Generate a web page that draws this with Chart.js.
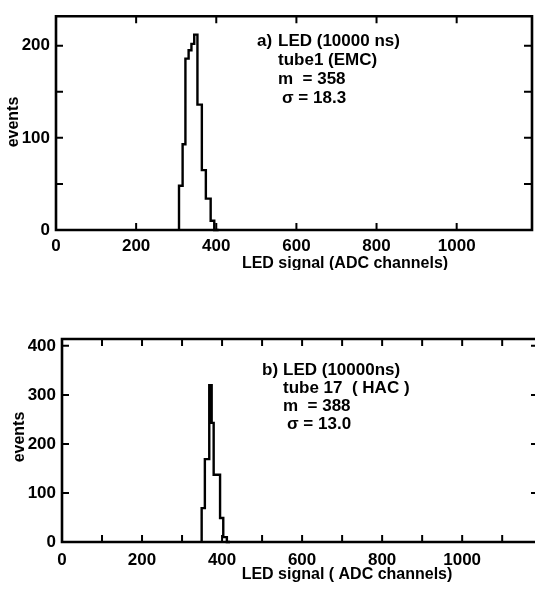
<!DOCTYPE html>
<html>
<head>
<meta charset="utf-8">
<script src="https://cdn.jsdelivr.net/npm/chart.js@4/dist/chart.umd.min.js"></script>
<style>
  html, body { margin: 0; padding: 0; background: #fff; }
  #wrap { position: relative; width: 535px; height: 589px; }
  canvas { position: absolute; left: 0; }
  #cTop { top: 0; }
  #cBot { top: 270px; }
</style>
</head>
<body>
<div id="wrap">
  <canvas id="cTop" width="535" height="270"></canvas>
  <canvas id="cBot" width="535" height="319"></canvas>
</div>
<script>
// ============================================================
// DATA
// ============================================================

// a) tube 1 (EMC): bin edges in ADC channels, counts per bin
const topEdges  = [307, 316, 323, 331, 338, 345, 353, 364, 374, 386, 395, 406];
const topCounts = [14, 48, 93, 186, 195, 202, 212, 136, 65, 34, 10];

// b) tube 17 (HAC)
const botEdges  = [349, 357, 368, 374, 379, 395, 403, 412, 420];
const botCounts = [18, 69, 169, 320, 243, 137, 49, 10];

// tick positions and labelled values
const topXTicks = [0, 200, 400, 600, 800, 1000];
const botXTicks = [0, 100, 200, 300, 400, 500, 600, 700, 800, 900, 1000, 1100];
const xTickLabels = [0, 200, 400, 600, 800, 1000];
const topYTicks = [0, 50, 100, 150, 200];
const topYLabels = [0, 100, 200];
const botYTicks = [0, 100, 200, 300, 400];
const botYLabels = [0, 100, 200, 300, 400];

const topNotes = ["a)", "LED (10000 ns)", "tube1 (EMC)", "m  = 358", "σ = 18.3"];
const botNotes = ["b)", "LED (10000ns)", "tube 17  ( HAC )", "m  = 388", "σ = 13.0"];

const xTitleTop = "LED signal (ADC channels)";
const xTitleBot = "LED signal ( ADC channels)";
const yTitle = "events";

const FONT = "'Liberation Sans', Arial, sans-serif";


// ============================================================
// HELPERS
// ============================================================

// step outline: start on the baseline, hold each count until the next edge
function histPoints(edges, counts) {
  const pts = [{ x: edges[0], y: 0 }];
  counts.forEach((c, i) => pts.push({ x: edges[i], y: c }));
  pts.push({ x: edges[edges.length - 1], y: 0 });
  return pts;
}

// frame, inward ticks and free text
const framePlugin = {
  id: "frame",
  afterDraw(chart, args, o) {
    const { ctx, chartArea: a, scales: { x, y } } = chart;
    ctx.save();
    ctx.strokeStyle = "#000";
    ctx.lineCap = "square";

    // box
    ctx.lineWidth = 2.6;
    ctx.beginPath();
    ctx.moveTo(a.left, a.top); ctx.lineTo(a.left, a.bottom); ctx.lineTo(a.right, a.bottom);
    ctx.moveTo(a.left, a.top); ctx.lineTo(a.right, a.top);
    if (o.rightBorder) { ctx.moveTo(a.right, a.top); ctx.lineTo(a.right, a.bottom); }
    ctx.stroke();

    // inward ticks
    const L = 6;
    ctx.lineWidth = 2;
    ctx.beginPath();
    x.ticks.forEach(t => {
      const px = x.getPixelForValue(t.value);
      if (px <= a.left + 1) return;
      ctx.moveTo(px, a.bottom); ctx.lineTo(px, a.bottom - L);
      ctx.moveTo(px, a.top); ctx.lineTo(px, a.top + L);
    });
    y.ticks.forEach(t => {
      const py = y.getPixelForValue(t.value);
      if (py >= a.bottom - 1) return;
      ctx.moveTo(a.left, py); ctx.lineTo(a.left + L, py);
      ctx.moveTo(a.right - 1, py); ctx.lineTo(a.right - 1 - (o.rightBorder ? L : 2), py);
    });
    ctx.stroke();

    // text
    ctx.fillStyle = "#000";
    ctx.textBaseline = "middle";
    (o.texts || []).forEach(t => {
      ctx.font = t.font;
      ctx.textAlign = t.align || "left";
      if (t.rot) {
        ctx.save();
        ctx.translate(t.x, t.y);
        ctx.rotate(-Math.PI / 2);
        ctx.textAlign = "center";
        ctx.fillText(t.s, 0, 0);
        ctx.restore();
      } else {
        ctx.fillText(t.s, t.x, t.y);
      }
    });
    ctx.restore();
  }
};


// ============================================================
// CHART BUILDER
// ============================================================

function makeHist(id, edges, counts, cfg) {
  const tickFont = { family: FONT, size: 17, weight: "bold" };

  return new Chart(document.getElementById(id), {
    type: "line",
    data: {
      datasets: [{
        data: histPoints(edges, counts),
        stepped: "after",
        borderColor: "#000",
        borderWidth: 2.4,
        pointRadius: 0,
        fill: false,
        clip: false
      }]
    },
    options: {
      responsive: false,
      animation: false,
      layout: { padding: cfg.padding },
      plugins: {
        legend: { display: false },
        tooltip: { enabled: false },
        frame: { rightBorder: cfg.rightBorder, texts: cfg.texts }
      },
      scales: {
        x: {
          type: "linear",
          min: 0,
          max: cfg.xMax,
          grid: { display: false, drawTicks: false },
          border: { display: false },
          // explicit tick list (auto ticks would snap 1188/200 to 6 even spaces)
          afterBuildTicks: s => { s.ticks = cfg.xTicks.map(v => ({ value: v })); },
          afterFit: s => { s.height = cfg.xHeight; },
          ticks: {
            autoSkip: false,
            maxRotation: 0,
            padding: cfg.xPad,
            color: "#000",
            font: tickFont,
            callback: v => xTickLabels.includes(v) ? String(v) : ""
          }
        },
        y: {
          min: 0,
          max: cfg.yMax,
          grid: { display: false, drawTicks: false },
          border: { display: false },
          afterBuildTicks: s => { s.ticks = cfg.yTicks.map(v => ({ value: v })); },
          afterFit: s => { s.width = cfg.yWidth; },
          ticks: {
            autoSkip: false,
            padding: 6,
            color: "#000",
            font: tickFont,
            callback: v => cfg.yLabels.includes(v) ? String(v) : ""
          }
        }
      }
    },
    plugins: [framePlugin]
  });
}

const noteFont = "bold 17px " + FONT;
const titleFont = "bold 16px " + FONT;

function noteTexts(notes, x0, y0, dy) {
  return [
    { s: notes[0], x: x0, y: y0, font: noteFont },
    { s: notes[1], x: x0 + 21, y: y0, font: noteFont },
    { s: notes[2], x: x0 + 21, y: y0 + dy, font: noteFont },
    { s: notes[3], x: x0 + 21, y: y0 + dy * 2, font: noteFont },
    { s: notes[4], x: x0 + 25, y: y0 + dy * 3, font: noteFont }
  ];
}

// ---------------- a) top panel
makeHist("cTop", topEdges, topCounts, {
  padding: { top: 6, right: 3, left: 0, bottom: 0 },
  xMax: 1188, xTicks: topXTicks, xHeight: 40, xPad: 6,
  yMax: 232, yTicks: topYTicks, yWidth: 56, yLabels: topYLabels,
  rightBorder: true,
  texts: [
    ...noteTexts(topNotes, 257, 41, 19),
    { s: xTitleTop, x: 345, y: 264, font: titleFont, align: "center" },
    { s: yTitle, x: 14, y: 122, font: titleFont, rot: true }
  ]
});

// ---------------- b) bottom panel
makeHist("cBot", botEdges, botCounts, {
  padding: { top: 69, right: 0, left: 0, bottom: 0 },
  xMax: 1182, xTicks: botXTicks, xHeight: 47, xPad: 8,
  yMax: 414, yTicks: botYTicks, yWidth: 62, yLabels: botYLabels,
  rightBorder: false,
  texts: [
    ...noteTexts(botNotes, 262, 100, 18),
    { s: xTitleBot, x: 347, y: 305, font: titleFont, align: "center" },
    { s: yTitle, x: 20, y: 167, font: titleFont, rot: true }
  ]
});
</script>
</body>
</html>
